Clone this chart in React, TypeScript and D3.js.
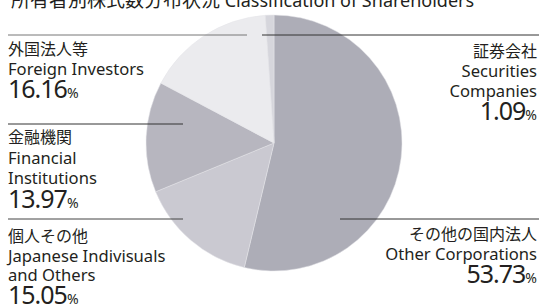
import * as d3 from "d3";

const categoriesJa = ["その他の国内法人", "個人その他", "金融機関", "外国法人等", "証券会社"];
const categoriesEn = [
  ["Other Corporations"],
  ["Japanese Indivisuals", "and Others"],
  ["Financial", "Institutions"],
  ["Foreign Investors"],
  ["Securities", "Companies"],
];
const shares = [53.73, 15.05, 13.97, 16.16, 1.09];
const colors = ["#adadb7", "#cac9d1", "#b7b6bf", "#ebebee", "#d6d6dc"];

// label placement: side, leader line y, inner end of leader, first text baseline
const layout = [
  { side: "right", lineY: 219, innerX: 340, top: 240, step: 20, lineColor: "#333" },
  { side: "left", lineY: 219, innerX: 183, top: 242, step: 19.5, lineColor: "#444" },
  { side: "left", lineY: 124, innerX: 183, top: 143, step: 20.5, lineColor: "#333" },
  { side: "left", lineY: 35, innerX: 247, top: 55, step: 20, lineColor: "#777" },
  { side: "right", lineY: 35, innerX: 262, top: 57, step: 20, lineColor: "#333" },
];

const W = 539;
const H = 306;
const cx = 274;
const cy = 143;
const radius = 128;
const font = "'Noto Sans', 'Noto Sans CJK JP', sans-serif";
const textColor = "#231f20";

export default function App() {
  const pie = d3.pie<number>().sort(null).value((d) => d);
  const arcs = pie(shares);
  const arc = d3.arc<d3.PieArcDatum<number>>().innerRadius(0).outerRadius(radius);

  return (
    <svg
      width={W}
      height={H}
      style={{ position: "fixed", left: 0, top: 0, background: "#fff" }}
      fontFamily={font}
    >
      <text x={11} y={7} fill={textColor}>
        <tspan fontSize={19}>所有者別株式数分布状況</tspan>
        <tspan fontSize={18}> Classification of Shareholders</tspan>
      </text>

      <g transform={`translate(${cx},${cy})`}>
        {arcs.map((a, i) => (
          <path key={i} d={arc(a) || ""} fill={colors[i]} stroke="#e4e4e8" strokeWidth={0.5} />
        ))}
      </g>

      {layout.map((l, i) => {
        const isLeft = l.side === "left";
        const x = isLeft ? 8 : 537;
        const anchor = isLeft ? "start" : "end";
        const lines = [categoriesJa[i], ...categoriesEn[i]];
        const numY = l.top + l.step * lines.length + 3;
        return (
          <g key={i}>
            <line
              x1={isLeft ? 8 : l.innerX}
              x2={isLeft ? l.innerX : W}
              y1={l.lineY}
              y2={l.lineY}
              stroke={l.lineColor}
              strokeWidth={1}
            />
            {lines.map((t, j) => (
              <text
                key={j}
                x={x}
                y={l.top + l.step * j}
                fontSize={j === 0 ? 16 : 16.6}
                textAnchor={anchor}
                fill={textColor}
              >
                {t}
              </text>
            ))}
            <text x={x} y={numY} textAnchor={anchor} fill={textColor}>
              <tspan fontSize={25} letterSpacing={-1}>
                {shares[i].toFixed(2)}
              </tspan>
              <tspan fontSize={14}>%</tspan>
            </text>
          </g>
        );
      })}
    </svg>
  );
}
